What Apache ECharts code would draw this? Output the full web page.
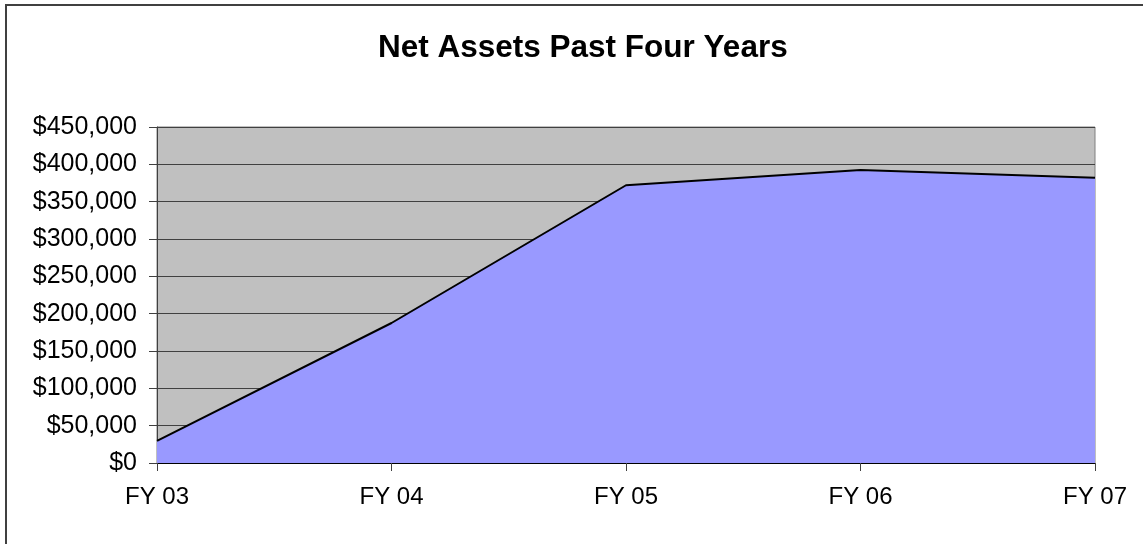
<!DOCTYPE html>
<html>
<head>
<meta charset="utf-8">
<script src="https://cdn.jsdelivr.net/npm/echarts@6/dist/echarts.min.js"></script>
<style>
  html, body { margin: 0; padding: 0; background: #fff; }
  #chart { width: 1143px; height: 544px; }
</style>
</head>
<body>
<div id="chart"></div>
<script>
const years = ['FY 03', 'FY 04', 'FY 05', 'FY 06', 'FY 07']
const netAssets = [29500, 187500, 372000, 392500, 382000]

const chart = echarts.init(document.getElementById('chart'))
const font = "'Liberation Sans', Arial, sans-serif"

chart.setOption({
  backgroundColor: '#ffffff',
  animation: false,
  title: {
    text: 'Net Assets Past Four Years',
    left: 373,
    top: 27,
    textStyle: { fontFamily: font, fontSize: 31.5, fontWeight: 'bold', color: '#000' }
  },
  graphic: [{
    type: 'rect',
    shape: { x: 6, y: 5, width: 1200, height: 600 },
    style: { fill: 'none', stroke: '#404040', lineWidth: 2 },
    silent: true
  }],
  grid: {
    left: 157,
    right: 48,
    top: 127,
    bottom: 81,
    show: true,
    backgroundColor: '#C0C0C0',
    borderColor: '#808080',
    borderWidth: 1
  },
  xAxis: {
    type: 'category',
    data: years,
    boundaryGap: false,
    axisLine: { lineStyle: { color: '#000', width: 1 } },
    axisTick: { show: true, inside: false, length: 8, alignWithLabel: true, lineStyle: { color: '#404040' } },
    axisLabel: { fontFamily: font, fontSize: 24, color: '#000', margin: 22 },
    splitLine: { show: false }
  },
  yAxis: {
    type: 'value',
    min: 0,
    max: 450000,
    interval: 50000,
    axisLine: { show: true, lineStyle: { color: '#404040', width: 1 } },
    axisTick: { show: true, length: 8, lineStyle: { color: '#404040' } },
    axisLabel: {
      fontFamily: font,
      fontSize: 25,
      color: '#000',
      margin: 20,
      formatter: v => '$' + v.toLocaleString('en-US')
    },
    splitLine: { show: true, lineStyle: { color: '#404040', width: 1 } }
  },
  series: [{
    type: 'line',
    data: netAssets,
    symbol: 'none',
    smooth: false,
    lineStyle: { color: '#000', width: 2 },
    areaStyle: { color: '#9999FF', opacity: 1 },
    z: 3
  }]
})
</script>
</body>
</html>
